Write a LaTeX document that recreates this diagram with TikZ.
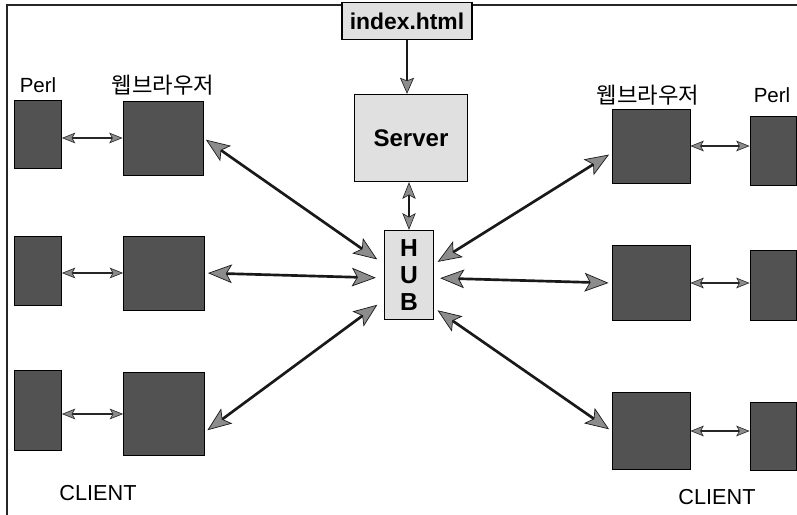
\documentclass[tikz,border=0pt]{standalone}
\usepackage{fontspec}
\setmainfont{Liberation Sans}
\newfontfamily\kofont{Noto Sans CJK KR}
\usepackage{tikz}
\usetikzlibrary{arrows.meta,positioning}
\newdimen\px \px=0.3mm
\tikzset{
  frame line/.style={line width=1.1pt, draw=black!85},
  light box/.style={draw=black, line width=1.2pt, fill=black!12,
    inner sep=0pt, font=\bfseries\fontsize{19.5}{21}\selectfont},
  dark box/.style={draw=black, line width=0.8pt, fill=black!68,
    inner sep=0pt},
  label text/.style={inner sep=0pt, font=\fontsize{17.5}{19}\selectfont},
  korean text/.style={inner sep=0pt, font=\kofont\fontsize{19}{21}\selectfont},
  client text/.style={inner sep=0pt, font=\fontsize{18.5}{20}\selectfont},
  perl link/.style={{Stealth[length=4mm,width=3.2mm,inset=0.9mm,fill=black!45,line width=0.5pt]}-{Stealth[length=4mm,width=3.2mm,inset=0.9mm,fill=black!45,line width=0.5pt]},
    line width=0.45mm, draw=black!85},
  hub link/.style={{Stealth[length=7.2mm,width=5.6mm,inset=1.6mm,fill=black!45,line width=0.6pt]}-{Stealth[length=7.2mm,width=5.6mm,inset=1.6mm,fill=black!45,line width=0.6pt]},
    line width=0.8mm, draw=black!90},
  server link/.style={{Stealth[length=5mm,width=4mm,inset=1.1mm,fill=black!45,line width=0.5pt]}-{Stealth[length=5mm,width=4mm,inset=1.1mm,fill=black!45,line width=0.5pt]},
    line width=0.55mm, draw=black!90},
  page link/.style={-{Stealth[length=4.8mm,width=4.2mm,inset=0.8mm,fill=black!45,line width=0.5pt]},
    line width=0.6mm, draw=black!90}
}
\begin{document}
\begin{tikzpicture}[x=0.3mm, y=-0.3mm]
  \useasboundingbox (0,0) rectangle (797,515);
  \draw[frame line] (7,515) -- (7,5) -- (797,5);
  % centre: page, server, hub
  \node[light box, minimum width=130\px, minimum height=37\px] (index) at (407,21) {index.html};
  \node[light box, minimum width=113\px, minimum height=87\px, font=\bfseries\fontsize{20.5}{22}\selectfont] (server) at (411,138) {Server};
  \node[light box, minimum width=49\px, minimum height=89\px, align=center,
    font=\bfseries\fontsize{21}{23}\selectfont] (hub) at (409,275) {H\\U\\B};
  % left clients
  \node[label text] (lperltxt) at (38,85) {Perl};
  \node[korean text] (lwebtxt) at (163,85) {웹브라우저};
  \node[dark box, minimum width=47\px, minimum height=68\px] (lperl1) at (38,134) {};
  \node[dark box, minimum width=80\px, minimum height=74\px] (lweb1) at (163,138) {};
  \node[dark box, minimum width=47\px, minimum height=69\px] (lperl2) at (38,271) {};
  \node[dark box, minimum width=81\px, minimum height=74\px] (lweb2) at (164,273) {};
  \node[dark box, minimum width=47\px, minimum height=80\px] (lperl3) at (38,410) {};
  \node[dark box, minimum width=81\px, minimum height=83\px] (lweb3) at (164,414) {};
  \node[client text] (lclient) at (98,493) {CLIENT};
  % right clients
  \node[korean text] (rwebtxt) at (648,95) {웹브라우저};
  \node[label text] (rperltxt) at (772,95) {Perl};
  \node[dark box, minimum width=78\px, minimum height=74\px] (rweb1) at (651,146) {};
  \node[dark box, minimum width=46\px, minimum height=69\px] (rperl1) at (773,151) {};
  \node[dark box, minimum width=78\px, minimum height=75\px] (rweb2) at (651,283) {};
  \node[dark box, minimum width=46\px, minimum height=70\px] (rperl2) at (773,285) {};
  \node[dark box, minimum width=78\px, minimum height=77\px] (rweb3) at (651,431) {};
  \node[dark box, minimum width=46\px, minimum height=68\px] (rperl3) at (773,436) {};
  \node[client text] (rclient) at (717,497) {CLIENT};
  % links
  \draw[page link] (index.south) -- (index.south |- server.north);
  \draw[server link] (hub.north |- server.south) -- (hub.north);
  \draw[perl link] (lperl1.east |- lweb1.west) -- (lweb1.west);
  \draw[perl link] (lperl2.east |- lweb2.west) -- (lweb2.west);
  \draw[perl link] (lperl3.east |- lweb3.west) -- (lweb3.west);
  \draw[perl link] (rweb1.east) -- (rweb1.east -| rperl1.west);
  \draw[perl link] (rweb2.east) -- (rweb2.east -| rperl2.west);
  \draw[perl link] (rweb3.east) -- (rweb3.east -| rperl3.west);
  \draw[hub link, shorten >=8\px, shorten <=3\px] (lweb1.east) -- ([yshift=11\px]hub.west);
  \draw[hub link, shorten >=8\px, shorten <=3\px] (lweb2.east) -- ([yshift=-3\px]hub.west);
  \draw[hub link, shorten >=8\px, shorten <=3\px] ([yshift=-18\px]lweb3.east) -- ([yshift=-25\px]hub.west);
  \draw[hub link, shorten >=4\px, shorten <=3\px] ([yshift=-7\px]rweb1.west) -- ([yshift=11\px]hub.east);
  \draw[hub link, shorten >=6\px, shorten <=3\px] (rweb2.west) -- ([yshift=-3\px]hub.east);
  \draw[hub link, shorten >=4\px, shorten <=3\px] (rweb3.west) -- ([yshift=-33\px]hub.east);
\end{tikzpicture}
\end{document}
